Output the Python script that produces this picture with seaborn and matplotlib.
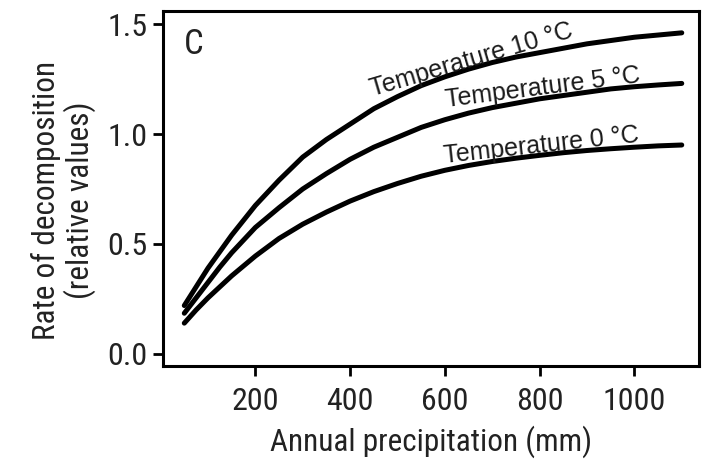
import matplotlib
matplotlib.use("Agg")
import matplotlib.pyplot as plt
from matplotlib import font_manager
import seaborn as sns
import pandas as pd

precip = [50, 75, 100, 125, 150, 200, 250, 300, 350, 400, 450, 500, 550, 600, 650, 700, 750, 800, 850, 900, 950, 1000, 1050, 1100]
temp10 = [0.22, 0.305, 0.39, 0.465, 0.54, 0.675, 0.79, 0.895, 0.975, 1.045, 1.115, 1.17, 1.22, 1.26, 1.295, 1.325, 1.35, 1.37, 1.39, 1.41, 1.425, 1.44, 1.45, 1.46]
temp5 = [0.185, 0.255, 0.325, 0.395, 0.46, 0.575, 0.665, 0.75, 0.82, 0.885, 0.94, 0.985, 1.03, 1.065, 1.095, 1.12, 1.14, 1.16, 1.175, 1.19, 1.205, 1.215, 1.223, 1.23]
temp0 = [0.14, 0.20, 0.255, 0.305, 0.355, 0.445, 0.525, 0.59, 0.645, 0.695, 0.738, 0.775, 0.808, 0.835, 0.857, 0.875, 0.89, 0.903, 0.915, 0.925, 0.933, 0.94, 0.946, 0.95]
series_names = ["Temperature 10 °C", "Temperature 5 °C", "Temperature 0 °C"]
xticks = [200, 400, 600, 800, 1000]
yticks = [0.0, 0.5, 1.0, 1.5]

sns.set_theme(style="ticks")
available = {f.name for f in font_manager.fontManager.ttflist}
cond_choices = ["Liberation Sans Narrow", "Roboto Condensed", "Open Sans Condensed",
                "DejaVu Sans Condensed", "Noto Sans Condensed"]
cond = next((n for n in cond_choices if n in available), None)
regular = ["Liberation Sans", "DejaVu Sans"]
if cond is not None:
    narrow = [cond, "Liberation Sans", "DejaVu Sans"]
    tick_size, label_size = 23, 22.5
else:
    narrow = regular
    tick_size, label_size = 21, 21
plt.rcParams["font.family"] = narrow

df = pd.DataFrame({
    "precip": precip * 3,
    "rate": temp10 + temp5 + temp0,
    "series": [series_names[0]] * len(precip) + [series_names[1]] * len(precip) + [series_names[2]] * len(precip),
})

fig = plt.figure(figsize=(7.06, 4.61), dpi=100)
ax = fig.add_axes([0.2305, 0.206, 0.76, 0.770])
sns.lineplot(data=df, x="precip", y="rate", units="series", estimator=None,
             color="black", linewidth=3.6, ax=ax, legend=False)

ax.set_xlim(4.5, 1137)
ax.set_ylim(-0.055, 1.559)
ax.set_xticks(xticks)
ax.set_xticklabels([str(v) for v in xticks])
ax.set_yticks(yticks)
ax.set_yticklabels([f"{v:.1f}" for v in yticks])
ax.tick_params(axis="both", labelsize=tick_size, width=2.0, length=7, color="black", labelcolor="#222222")
ax.tick_params(axis="x", pad=8)
ax.tick_params(axis="y", pad=4)
for sp in ax.spines.values():
    sp.set_linewidth(2.2)
    sp.set_color("black")

ax.set_xlabel("Annual precipitation (mm)", fontsize=label_size, color="#222222", labelpad=7)
ax.set_ylabel("Rate of decomposition\n(relative values)", fontsize=label_size, color="#222222",
              linespacing=1.1)
ax.yaxis.set_label_coords(-0.124, 0.4676)

ax.text(0.058, 0.907, "C", transform=ax.transAxes, fontsize=25, ha="center", va="center",
        color="#222222")

label_pos = [(661, 1.305, 16.4), (808, 1.18, 7.3), (806, 0.916, 6.2)]
for name, (lx, ly, rot) in zip(series_names, label_pos):
    ax.text(lx, ly, name, fontsize=18, rotation=rot, rotation_mode="anchor",
            ha="center", va="baseline", color="#1a1a1a", family=regular)

fig.savefig("out.png", dpi=100)
